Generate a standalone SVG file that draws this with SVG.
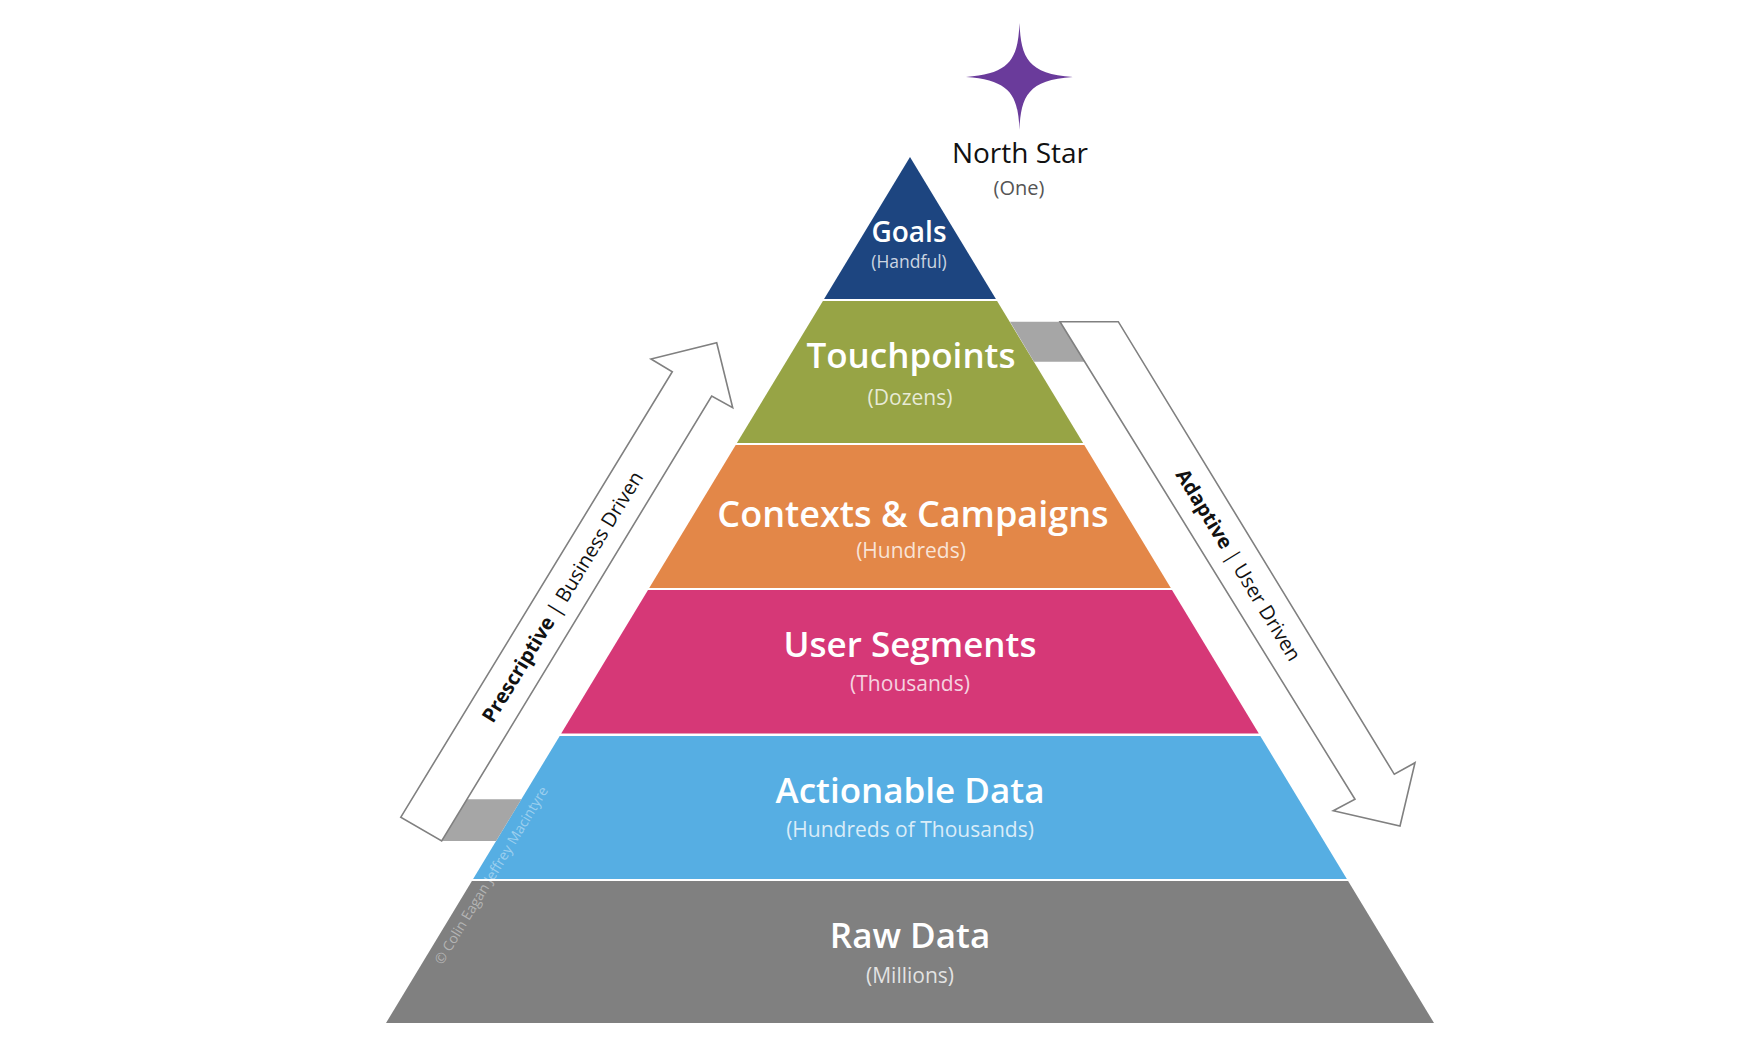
<svg xmlns="http://www.w3.org/2000/svg" width="1764" height="1050" viewBox="0 0 1764 1050">
  <style>
    .title { font-family: "Open Sans", "Liberation Sans", sans-serif; font-weight: 600; fill: #ffffff; text-anchor: middle; }
    .sub { font-family: "Open Sans", "Liberation Sans", sans-serif; font-weight: 400; fill: #ffffff; fill-opacity: 0.78; text-anchor: middle; }
    .arrow { fill: #ffffff; stroke: #808080; stroke-width: 1.6; stroke-linejoin: miter; }
    .base { fill: #a6a6a6; }
    .alabel { font-family: "Open Sans", "Liberation Sans", sans-serif; font-size: 20px; fill: #111111; text-anchor: middle; }
    .copy { font-family: "Open Sans", "Liberation Sans", sans-serif; font-size: 14px; fill: #ffffff; fill-opacity: 0.42; }
  </style>
  <rect width="1764" height="1050" fill="#ffffff"/>

  <g id="north-star">
    <path d="M1019.5,23 C1021,58 1028,74 1073,77 C1028,80 1021,96 1019.5,130 C1018,96 1011,80 966,77 C1011,74 1018,58 1019.5,23 Z" fill="#6a3b9b"/>
    <text x="1020" y="163" font-family="'Open Sans', 'Liberation Sans', sans-serif" font-size="28" font-weight="500" fill="#111111" text-anchor="middle">North Star</text>
    <text x="1019" y="195" font-family="'Open Sans', 'Liberation Sans', sans-serif" font-size="20" fill="#555555" text-anchor="middle">(One)</text>
  </g>

  <g id="layer-goals">
    <polygon points="910,157 995.9,299 824.1,299" fill="#1d4580"/>
    <text class="title" x="909" y="242" font-size="28">Goals</text>
    <text class="sub" x="909" y="268" font-size="17.5">(Handful)</text>
  </g>

  <g id="layer-touchpoints">
    <polygon points="822.9,301 997.1,301 1083.1,443 736.9,443" fill="#97a445"/>
    <text class="title" x="911" y="368" font-size="35">Touchpoints</text>
    <text class="sub" x="910" y="405" font-size="21">(Dozens)</text>
  </g>

  <g id="layer-contexts">
    <polygon points="735.7,445 1084.3,445 1170.8,588 649.2,588" fill="#e38748"/>
    <text class="title" x="913" y="527" font-size="36">Contexts &amp; Campaigns</text>
    <text class="sub" x="911" y="558" font-size="21">(Hundreds)</text>
  </g>

  <g id="layer-segments">
    <polygon points="648,590 1172,590 1258.8,733.5 561.2,733.5" fill="#d63877"/>
    <text class="title" x="910" y="657" font-size="35">User Segments</text>
    <text class="sub" x="910" y="691" font-size="21">(Thousands)</text>
  </g>

  <g id="layer-actionable">
    <polygon points="559.7,736 1260.3,736 1346.9,879 473.1,879" fill="#56aee3"/>
    <text class="title" x="910" y="803" font-size="35">Actionable Data</text>
    <text class="sub" x="910" y="837" font-size="21">(Hundreds of Thousands)</text>
  </g>

  <g id="layer-raw">
    <polygon points="471.9,881 1348.1,881 1434,1023 386,1023" fill="#808080"/>
    <text class="title" x="910" y="948" font-size="35">Raw Data</text>
    <text class="sub" x="910" y="983" font-size="21">(Millions)</text>
  </g>

  <g id="copyright">
    <text class="copy" transform="translate(438,963) rotate(-58.8)" x="0" y="5">© Colin Eagan  Jeffrey Macintyre</text>
  </g>

  <g id="connectors">
    <g id="arrow-prescriptive">
      <polygon class="base" points="467,799.3 521.4,799.3 496.1,841 441.7,841"/>
      <polygon class="arrow" points="400.7,817.3 672.3,371.7 651,359 716.7,342.7 732.7,407.7 711.7,396 441.7,841"/>
      <text class="alabel" transform="translate(562.5,596.7) rotate(-58.6)" x="0" y="7"><tspan font-weight="700">Prescriptive</tspan> | Business Driven</text>
    </g>
    <g id="arrow-adaptive">
      <polygon class="base" points="1010,321.7 1060,321.7 1084.7,361.7 1034,361.7"/>
      <polygon class="arrow" points="1060,321.7 1118.3,321.7 1394.3,774.3 1415,762.7 1400,826 1333.3,810.7 1355,799.3"/>
      <text class="alabel" transform="translate(1238.5,565) rotate(58.6)" x="0" y="7"><tspan font-weight="700">Adaptive</tspan> | User Driven</text>
    </g>
  </g>
</svg>
